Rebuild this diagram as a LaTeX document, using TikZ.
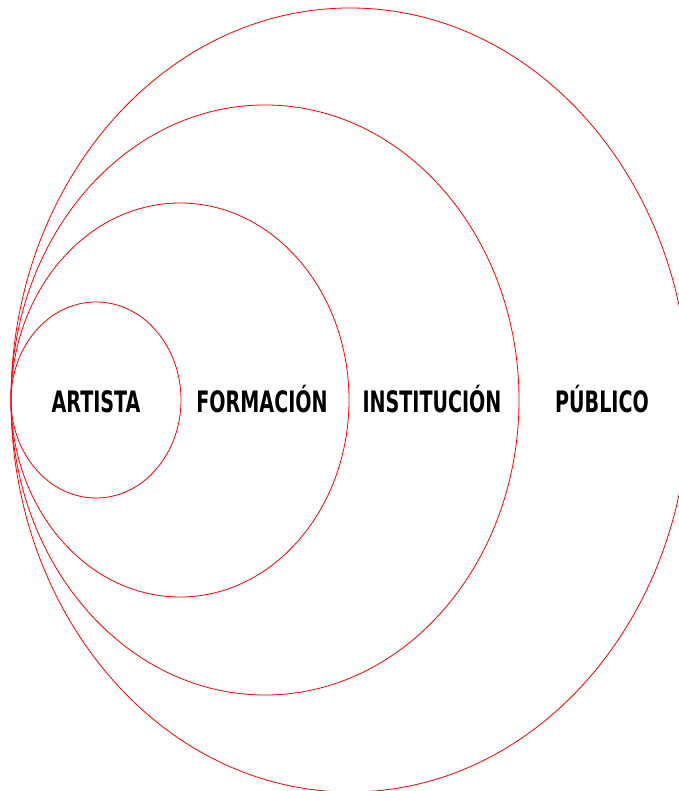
\documentclass[tikz,border=0pt]{standalone}
\usepackage{fontspec}
\usepackage{tikz}
\newfontfamily\lblfont{DejaVu Sans Condensed}

\begin{document}
\begin{tikzpicture}[x=1pt, y=1pt]
    \useasboundingbox (0,0) rectangle (678,791);
    \begin{scope}[red, line width=0.8pt]
    \draw (96,391) circle [x radius=85, y radius=98];
    \draw (180,391) circle [x radius=169, y radius=197];
    \draw (265,391) circle [x radius=254, y radius=295];
    \draw (350,391) circle [x radius=339, y radius=392];
    \end{scope}
    \begin{scope}[every node/.style={inner sep=0pt, anchor=base, xscale=0.72, font=\lblfont\bfseries\fontsize{29.5}{30}\selectfont}]
    \node (artista) at (96,378) {ARTISTA};
    \node (formacion) at (262,378) {FORMACIÓN};
    \node (institucion) at (432,378) {INSTITUCIÓN};
    \node (publico) at (602,378) {PÚBLICO};
    \end{scope}
  \end{tikzpicture}
\end{document}
